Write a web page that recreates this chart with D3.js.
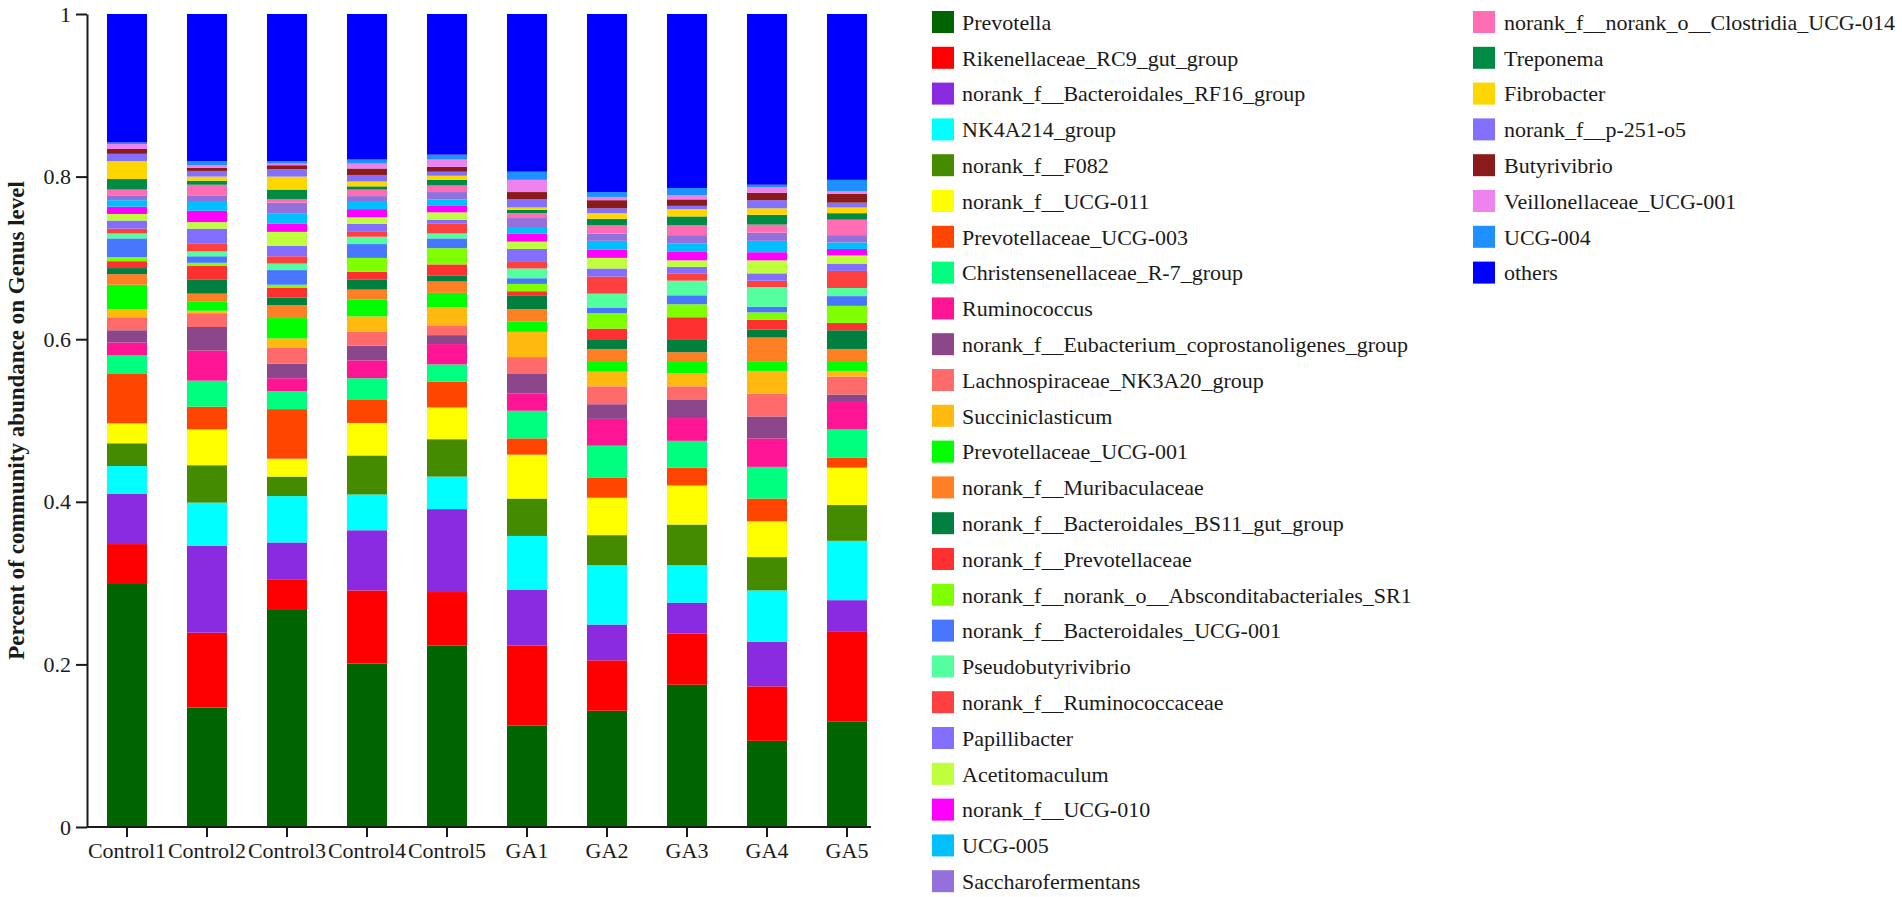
<!DOCTYPE html>
<html>
<head>
<meta charset="utf-8">
<script src="https://cdn.jsdelivr.net/npm/d3@7/dist/d3.min.js"></script>
<style>
  body { margin: 0; background: #fff; }
  svg { display: block; font-family: 'Liberation Serif', 'Times New Roman', serif; }
</style>
</head>
<body>
<svg id="chart" width="1902" height="897"></svg>
<script>
const samples = ['Control1', 'Control2', 'Control3', 'Control4', 'Control5', 'GA1', 'GA2', 'GA3', 'GA4', 'GA5']

const taxa = [
  'Prevotella', 'Rikenellaceae_RC9_gut_group', 'norank_f__Bacteroidales_RF16_group',
  'NK4A214_group', 'norank_f__F082', 'norank_f__UCG-011', 'Prevotellaceae_UCG-003',
  'Christensenellaceae_R-7_group', 'Ruminococcus', 'norank_f__Eubacterium_coprostanoligenes_group',
  'Lachnospiraceae_NK3A20_group', 'Succiniclasticum', 'Prevotellaceae_UCG-001',
  'norank_f__Muribaculaceae', 'norank_f__Bacteroidales_BS11_gut_group', 'norank_f__Prevotellaceae',
  'norank_f__norank_o__Absconditabacteriales_SR1', 'norank_f__Bacteroidales_UCG-001',
  'Pseudobutyrivibrio', 'norank_f__Ruminococcaceae', 'Papillibacter', 'Acetitomaculum',
  'norank_f__UCG-010', 'UCG-005', 'Saccharofermentans', 'norank_f__norank_o__Clostridia_UCG-014',
  'Treponema', 'Fibrobacter', 'norank_f__p-251-o5', 'Butyrivibrio', 'Veillonellaceae_UCG-001',
  'UCG-004', 'others'
]

const colors = [
  '#006400', '#ff0000', '#8a2be2', '#00ffff', '#458b00', '#ffff00', '#ff4500',
  '#00ff7f', '#ff1493', '#8b4789', '#ff6a6a', '#ffb90f', '#00ff00',
  '#ff7f24', '#007f3f', '#ff3030', '#7fff00', '#4876ff',
  '#54ff9f', '#ff4040', '#836fff', '#c0ff3e', '#ff00ff', '#00bfff', '#9370db', '#ff6eb4',
  '#008b45', '#ffd700', '#8470ff', '#8b1a1a', '#ee82ee', '#1e90ff', '#0000ff'
]

// relative abundance per sample, in the order of taxa (bottom to top)
const control1 = [0.300, 0.048, 0.062, 0.034, 0.028, 0.0245, 0.0615, 0.022, 0.016, 0.015, 0.016, 0.010, 0.030, 0.013, 0.0075, 0.0085, 0.005, 0.023, 0.006, 0.006, 0.010, 0.008, 0.009, 0.008, 0.006, 0.007, 0.013, 0.022, 0.009, 0.006, 0.006, 0.002, 0.158]
const control2 = [0.147, 0.092, 0.107, 0.053, 0.046, 0.044, 0.028, 0.032, 0.037, 0.029, 0.017, 0.003, 0.011, 0.010, 0.017, 0.017, 0.004, 0.008, 0.006, 0.010, 0.018, 0.008, 0.014, 0.012, 0.007, 0.013, 0.005, 0.005, 0.007, 0.004, 0.003, 0.005, 0.181]
const control3 = [0.268, 0.036, 0.046, 0.057, 0.024, 0.022, 0.061, 0.022, 0.016, 0.018, 0.020, 0.011, 0.025, 0.016, 0.009, 0.012, 0.004, 0.018, 0.008, 0.009, 0.013, 0.017, 0.010, 0.013, 0.013, 0.004, 0.012, 0.016, 0.009, 0.005, 0.002, 0.003, 0.181]
const control4 = [0.201, 0.090, 0.074, 0.044, 0.048, 0.040, 0.029, 0.026, 0.022, 0.018, 0.017, 0.019, 0.021, 0.012, 0.012, 0.010, 0.017, 0.017, 0.009, 0.006, 0.010, 0.008, 0.010, 0.010, 0.006, 0.008, 0.004, 0.006, 0.008, 0.008, 0.006, 0.005, 0.179]
const control5 = [0.223, 0.066, 0.102, 0.040, 0.046, 0.039, 0.032, 0.021, 0.025, 0.011, 0.012, 0.022, 0.018, 0.014, 0.007, 0.014, 0.020, 0.012, 0.006, 0.012, 0.005, 0.009, 0.008, 0.008, 0.009, 0.008, 0.007, 0.005, 0.005, 0.006, 0.009, 0.006, 0.173]
const ga1 = [0.125, 0.098, 0.069, 0.066, 0.046, 0.054, 0.020, 0.034, 0.021, 0.025, 0.020, 0.031, 0.013, 0.015, 0.017, 0.005, 0.009, 0.007, 0.012, 0.009, 0.015, 0.009, 0.010, 0.008, 0.011, 0.006, 0.004, 0.003, 0.010, 0.009, 0.015, 0.010, 0.194]
const ga2 = [0.143, 0.062, 0.044, 0.073, 0.037, 0.046, 0.025, 0.039, 0.033, 0.018, 0.022, 0.018, 0.012, 0.016, 0.011, 0.014, 0.019, 0.007, 0.017, 0.021, 0.010, 0.013, 0.010, 0.011, 0.009, 0.010, 0.008, 0.007, 0.006, 0.010, 0.004, 0.006, 0.219]
const ga3 = [0.175, 0.063, 0.038, 0.046, 0.050, 0.048, 0.022, 0.033, 0.028, 0.023, 0.016, 0.016, 0.014, 0.012, 0.016, 0.027, 0.016, 0.011, 0.018, 0.009, 0.008, 0.008, 0.011, 0.010, 0.010, 0.012, 0.011, 0.009, 0.004, 0.008, 0.005, 0.009, 0.214]
const ga4 = [0.106, 0.067, 0.055, 0.063, 0.041, 0.044, 0.028, 0.039, 0.035, 0.027, 0.028, 0.028, 0.012, 0.029, 0.010, 0.012, 0.009, 0.007, 0.024, 0.008, 0.009, 0.016, 0.010, 0.014, 0.010, 0.010, 0.012, 0.008, 0.010, 0.009, 0.007, 0.003, 0.210]
const ga5 = [0.130, 0.110, 0.039, 0.073, 0.044, 0.046, 0.012, 0.035, 0.035, 0.008, 0.022, 0.007, 0.011, 0.016, 0.023, 0.009, 0.021, 0.012, 0.010, 0.021, 0.009, 0.010, 0.008, 0.008, 0.009, 0.019, 0.008, 0.007, 0.006, 0.011, 0.003, 0.014, 0.204]

const sampleValues = [control1, control2, control3, control4, control5, ga1, ga2, ga3, ga4, ga5]

const yTicks = [0, 0.2, 0.4, 0.6, 0.8, 1]
const yTickLabels = ['0', '0.2', '0.4', '0.6', '0.8', '1']
const yTitle = 'Percent of community abundance on Genus level'

let margin = { top: 14, left: 87 }
let plotBottom = 827
let plotRight = 887

let svg = d3.select('#chart')

let xScale = d3
  .scaleBand()
  .domain(samples)
  .range([margin.left, plotRight])
  .paddingInner(0.5)
  .paddingOuter(0.25)

let yScale = d3
  .scaleLinear()
  .domain([0, 1])
  .range([plotBottom, margin.top])

let colorScale = d3.scaleOrdinal().domain(taxa).range(colors)

// table for d3.stack
let table = samples.map((s, i) => {
  let row = { sample: s }
  taxa.forEach((t, j) => {
    row[t] = sampleValues[i][j]
  })
  return row
})

let series = d3.stack().keys(taxa)(table)

svg
  .append('g')
  .selectAll('g')
  .data(series)
  .enter()
  .append('g')
  .attr('fill', d => colorScale(d.key))
  .selectAll('rect')
  .data(d => d)
  .enter()
  .append('rect')
  .attr('x', d => xScale(d.data.sample))
  .attr('width', xScale.bandwidth())
  .attr('y', d => yScale(d[1]))
  .attr('height', d => yScale(d[0]) - yScale(d[1]))

// axes
let yAxis = d3
  .axisLeft(yScale)
  .tickValues(yTicks)
  .tickFormat((d, i) => yTickLabels[i])
  .tickSize(11)
  .tickSizeOuter(0)
  .tickPadding(5)

let yG = svg
  .append('g')
  .attr('transform', `translate(${margin.left},0)`)
  .call(yAxis)

let xAxis = d3
  .axisBottom(xScale)
  .tickSize(10)
  .tickSizeOuter(0)
  .tickPadding(5)

let xG = svg
  .append('g')
  .attr('transform', `translate(0,${plotBottom})`)
  .call(xAxis)

xG.select('.domain').remove()
xG
  .append('line')
  .attr('x1', margin.left)
  .attr('x2', xScale(samples[samples.length - 1]) + xScale.bandwidth() + 4)
  .attr('stroke', '#1a1a1a')
  .attr('stroke-width', 2)

svg
  .selectAll('.tick line, .domain')
  .attr('stroke', '#1a1a1a')
  .attr('stroke-width', 2)

svg
  .selectAll('.tick text')
  .attr('font-family', "'Liberation Serif', 'Times New Roman', serif")
  .attr('font-size', 22)
  .attr('fill', '#1a1a1a')

// y axis title
svg
  .append('text')
  .attr('transform', `translate(24,${(margin.top + plotBottom) / 2}) rotate(-90)`)
  .attr('text-anchor', 'middle')
  .attr('font-size', 23)
  .attr('font-weight', 'bold')
  .attr('fill', '#1a1a1a')
  .text(yTitle)

// legend, two columns
let rowGap = 35.8
let legend = svg
  .append('g')
  .selectAll('g')
  .data(taxa)
  .enter()
  .append('g')
  .attr('transform', (d, i) => {
    let col = i < 25 ? 0 : 1
    let row = i < 25 ? i : i - 25
    let x = col === 0 ? 932 : 1473
    return `translate(${x},${11 + row * rowGap})`
  })

legend
  .append('rect')
  .attr('width', 22)
  .attr('height', 22)
  .attr('fill', d => colorScale(d))

legend
  .append('text')
  .attr('x', (d, i) => (i < 25 ? 30 : 31))
  .attr('y', 11)
  .attr('dy', '0.35em')
  .attr('font-size', 22)
  .attr('fill', '#1a1a1a')
  .text(d => d)
</script>
</body>
</html>
